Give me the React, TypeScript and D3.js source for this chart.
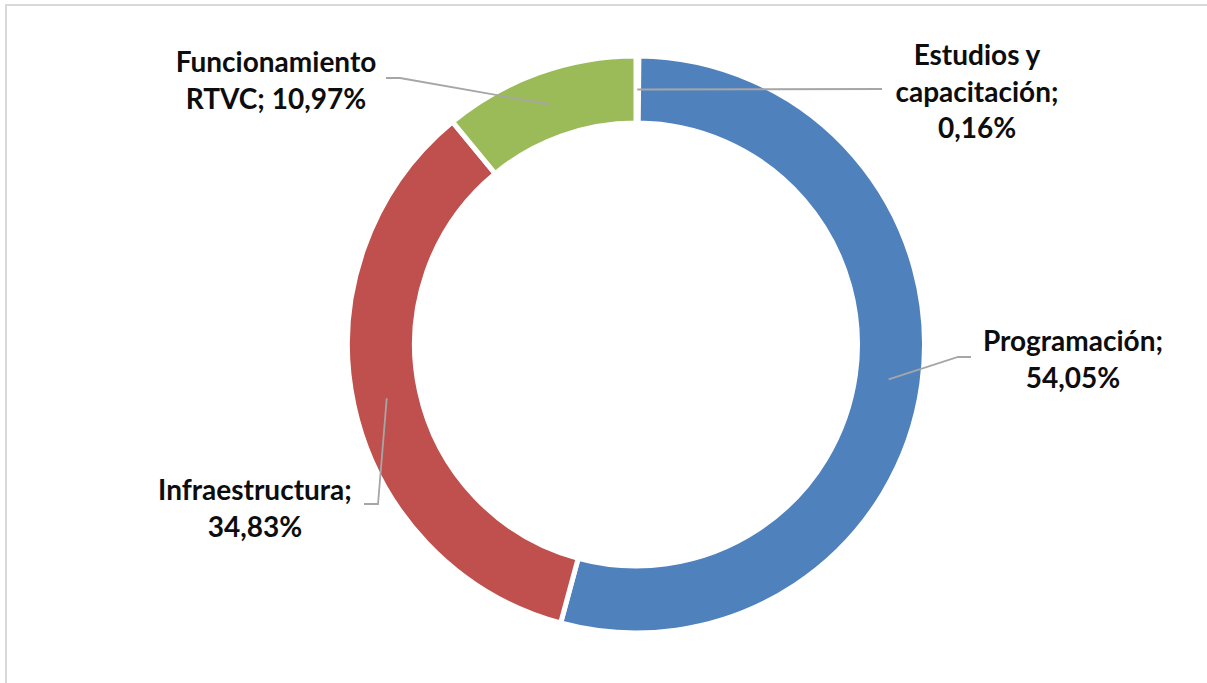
import React from "react";
import * as d3 from "d3";

const categories = ["Estudios y capacitación", "Programación", "Infraestructura", "Funcionamiento RTVC"];
const values = [0.16, 54.05, 34.83, 10.97];
const valueLabels = ["0,16%", "54,05%", "34,83%", "10,97%"];
const colors = ["#8064A2", "#4F81BD", "#C0504D", "#9BBB59"];

const W = 1207;
const H = 683;
const cx = 636;
const cy = 344.5;
const outerR = 288.5;
const innerR = 221.5;

const labelLines = [
  ["Estudios y", "capacitación;", valueLabels[0]],
  ["Programación;", valueLabels[1]],
  ["Infraestructura;", valueLabels[2]],
  ["Funcionamiento", "RTVC; " + valueLabels[3]],
];
const labelPos = [
  { x: 977, y: 65 },
  { x: 1073, y: 351 },
  { x: 255, y: 500 },
  { x: 276, y: 72 },
];
const leaderPts: [number, number][][] = [
  [[882, 89]],
  [[958, 357], [971, 357]],
  [[378, 504], [364, 504]],
  [[400, 78], [386, 78]],
];

export default function App() {
  const pie = d3.pie<number>().sort(null).value((d) => d)(values);
  const arc = d3.arc<d3.PieArcDatum<number>>().innerRadius(innerR).outerRadius(outerR);
  const fontFamily = "Lato, 'Open Sans', sans-serif";
  const lineH = 36.5;
  return (
    <svg width={W} height={H} style={{ position: "absolute", left: 0, top: 0, background: "#fff" }}>
      <rect x={6} y={5} width={1240} height={720} fill="#fff" stroke="#d9d9d9" strokeWidth={2} />
      <g transform={`translate(${cx},${cy})`}>
        {pie.map((p, i) => (
          <path key={i} d={arc(p) || ""} fill={colors[i]} stroke="#fff" strokeWidth={5} strokeLinejoin="round" />
        ))}
      </g>
      {pie.map((p, i) => {
        const [x, y] = arc.centroid(p);
        const pts = [[x + cx, y + cy], ...leaderPts[i]];
        const line = d3.line()(pts as [number, number][]) || "";
        return <path key={"l" + i} d={line} fill="none" stroke="#A6A6A6" strokeWidth={1.8} />;
      })}
      {labelLines.map((lines, i) => (
        <text
          key={"t" + i}
          x={labelPos[i].x}
          y={labelPos[i].y}
          textAnchor="middle"
          fontFamily={fontFamily}
          fontWeight="bold"
          fontSize={28}
          fill="#0d0d0d"
        >
          {lines.map((s, j) => (
            <tspan key={j} x={labelPos[i].x} y={labelPos[i].y + j * lineH}>
              {s}
            </tspan>
          ))}
        </text>
      ))}
    </svg>
  );
}
